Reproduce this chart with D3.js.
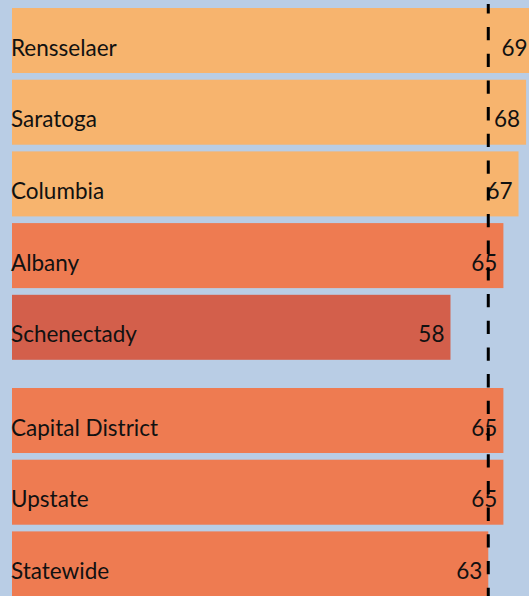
<!DOCTYPE html>
<html>
<head>
<meta charset="utf-8">
<script src="https://cdn.jsdelivr.net/npm/d3@7"></script>
<style>
  html, body { margin: 0; padding: 0; background: #b9cde5; }
  svg { display: block; }
</style>
</head>
<body>
<div id="chart"></div>
<script>
// counties first, then regional rollups
var counties = ['Rensselaer', 'Saratoga', 'Columbia', 'Albany', 'Schenectady']
var countyValues = [69, 68, 67, 65, 58]
var regions = ['Capital District', 'Upstate', 'Statewide']
var regionValues = [65, 65, 63]
// which shade each bar gets (0 light, 1 mid, 2 dark)
var countyTier = [0, 0, 0, 1, 2]
var regionTier = [1, 1, 1]
var referenceLabel = 'Statewide'

var width = 529
var height = 596
var groupGap = 21.5
var tierColor = ['#f7b46e', '#ee7b51', '#d35f4b']

var rows = []
counties.forEach((c, i) => rows.push({ name: c, value: countyValues[i], tier: countyTier[i], group: 0 }))
regions.forEach((c, i) => rows.push({ name: c, value: regionValues[i], tier: regionTier[i], group: 1 }))

var svg = d3.select('#chart').append('svg')
    .attr('width', width)
    .attr('height', height)

svg.append('rect')
    .attr('width', width)
    .attr('height', height)
    .attr('fill', '#b9cde5')

var x = d3.scaleLinear()
    .domain([0, 69])
    .range([12, 12 + 69 * 7.56])

var y = d3.scaleBand()
    .domain(rows.map(d => d.name))
    .range([8, 8 + 71.7 * (rows.length - 0.0934)])
    .paddingInner(0.0934)
    .paddingOuter(0)

var barTop = d => y(d.name) + d.group * groupGap

var bar = svg.append('g')
    .selectAll('g')
    .data(rows)
    .join('g')

bar.append('rect')
    .attr('x', x(0))
    .attr('y', d => barTop(d))
    .attr('width', d => x(d.value) - x(0))
    .attr('height', y.bandwidth())
    .attr('fill', d => tierColor[d.tier])

bar.append('text')
    .attr('x', x(0) - 1)
    .attr('y', d => barTop(d) + 47.5)
    .attr('font-family', 'Lato, sans-serif')
    .attr('font-size', '22.5px')
    .attr('fill', '#111')
    .text(d => d.name)

bar.append('text')
    .attr('x', d => x(d.value) - 6)
    .attr('y', d => barTop(d) + 47.5)
    .attr('text-anchor', 'end')
    .attr('font-family', 'Lato, sans-serif')
    .attr('font-size', '22.5px')
    .attr('fill', '#111')
    .text(d => d.value)

// dashed reference line at the statewide value
var ref = rows.find(d => d.name == referenceLabel)
svg.append('line')
    .attr('x1', x(ref.value))
    .attr('x2', x(ref.value))
    .attr('y1', 4)
    .attr('y2', height)
    .attr('stroke', '#000')
    .attr('stroke-width', 3)
    .attr('stroke-dasharray', '13.3,13.4')
    .attr('stroke-dashoffset', 3.7)
</script>
</body>
</html>
